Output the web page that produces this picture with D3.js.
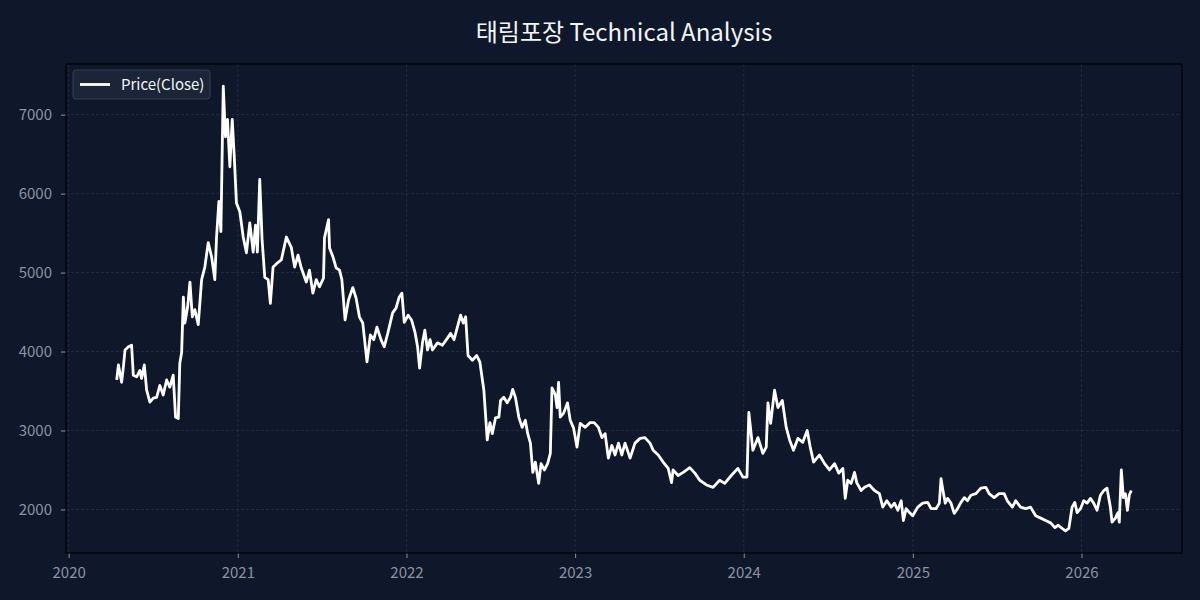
<!DOCTYPE html>
<html>
<head>
<meta charset="utf-8">
<script src="https://cdn.jsdelivr.net/npm/d3@7"></script>
<style>
  html, body { margin: 0; padding: 0; background: #0f172a; }
  svg { display: block; font-family: "Noto Sans CJK KR", "Noto Sans", sans-serif; }
</style>
</head>
<body>
<div id="chart"></div>
<script>
// dates as decimal years
var dates = [
  2020.284, 2020.294, 2020.313, 2020.323, 2020.333, 2020.353, 2020.372, 2020.382, 2020.402, 2020.421,
  2020.431, 2020.447, 2020.461, 2020.480, 2020.500, 2020.520, 2020.539, 2020.559, 2020.579, 2020.598,
  2020.618, 2020.632, 2020.648, 2020.657, 2020.668, 2020.678, 2020.687, 2020.703, 2020.717, 2020.731,
  2020.746, 2020.766, 2020.786, 2020.805, 2020.825, 2020.845, 2020.864, 2020.874, 2020.888, 2020.900,
  2020.914, 2020.927, 2020.939, 2020.953, 2020.967, 2020.979, 2020.992, 2021.012, 2021.032, 2021.051,
  2021.071, 2021.091, 2021.105, 2021.116, 2021.130, 2021.144, 2021.160, 2021.180, 2021.193, 2021.209,
  2021.239, 2021.258, 2021.288, 2021.317, 2021.337, 2021.357, 2021.376, 2021.406, 2021.425, 2021.445,
  2021.465, 2021.484, 2021.508, 2021.514, 2021.538, 2021.544, 2021.564, 2021.583, 2021.603, 2021.617,
  2021.636, 2021.656, 2021.682, 2021.701, 2021.721, 2021.741, 2021.766, 2021.786, 2021.806, 2021.825,
  2021.849, 2021.868, 2021.889, 2021.918, 2021.938, 2021.957, 2021.973, 2021.987, 2022.010, 2022.030,
  2022.050, 2022.066, 2022.078, 2022.095, 2022.109, 2022.125, 2022.140, 2022.154, 2022.184, 2022.213,
  2022.243, 2022.262, 2022.282, 2022.302, 2022.321, 2022.337, 2022.351, 2022.365, 2022.391, 2022.416,
  2022.435, 2022.459, 2022.479, 2022.495, 2022.509, 2022.528, 2022.548, 2022.558, 2022.577, 2022.597,
  2022.617, 2022.630, 2022.646, 2022.666, 2022.686, 2022.705, 2022.719, 2022.735, 2022.749, 2022.764,
  2022.784, 2022.798, 2022.818, 2022.837, 2022.853, 2022.863, 2022.883, 2022.893, 2022.902, 2022.912,
  2022.932, 2022.955, 2022.971, 2022.991, 2023.011, 2023.030, 2023.060, 2023.089, 2023.113, 2023.138,
  2023.159, 2023.178, 2023.197, 2023.218, 2023.237, 2023.257, 2023.277, 2023.296, 2023.326, 2023.355,
  2023.385, 2023.414, 2023.444, 2023.463, 2023.493, 2023.522, 2023.552, 2023.572, 2023.581, 2023.611,
  2023.641, 2023.680, 2023.710, 2023.739, 2023.779, 2023.818, 2023.857, 2023.887, 2023.926, 2023.965,
  2023.995, 2024.019, 2024.030, 2024.054, 2024.084, 2024.113, 2024.133, 2024.143, 2024.159, 2024.182,
  2024.202, 2024.228, 2024.251, 2024.271, 2024.294, 2024.320, 2024.349, 2024.375, 2024.393, 2024.413,
  2024.448, 2024.478, 2024.507, 2024.537, 2024.562, 2024.586, 2024.600, 2024.615, 2024.635, 2024.655,
  2024.668, 2024.694, 2024.714, 2024.743, 2024.773, 2024.802, 2024.822, 2024.846, 2024.872, 2024.891,
  2024.911, 2024.931, 2024.944, 2024.960, 2024.980, 2024.999, 2025.029, 2025.058, 2025.088, 2025.108,
  2025.137, 2025.157, 2025.167, 2025.176, 2025.192, 2025.206, 2025.226, 2025.245, 2025.265, 2025.285,
  2025.305, 2025.324, 2025.344, 2025.374, 2025.403, 2025.433, 2025.452, 2025.482, 2025.511, 2025.541,
  2025.560, 2025.590, 2025.610, 2025.639, 2025.669, 2025.698, 2025.728, 2025.758, 2025.787, 2025.817,
  2025.842, 2025.862, 2025.885, 2025.905, 2025.925, 2025.944, 2025.960, 2025.974, 2025.994, 2026.013,
  2026.033, 2026.053, 2026.072, 2026.092, 2026.112, 2026.132, 2026.151, 2026.171, 2026.181, 2026.201,
  2026.216, 2026.224, 2026.236, 2026.248, 2026.260, 2026.272, 2026.283, 2026.295
];

var closes = [
  3640, 3830, 3610, 3800, 4020, 4060, 4080, 3700, 3680, 3760,
  3660, 3830, 3510, 3360, 3410, 3420, 3570, 3450, 3640, 3550,
  3700, 3170, 3150, 3850, 3990, 4690, 4360, 4560, 4880, 4440,
  4530, 4340, 4910, 5070, 5380, 5200, 4910, 5440, 5900, 5520,
  7360, 6720, 6940, 6340, 6940, 6470, 5880, 5770, 5450, 5250,
  5630, 5260, 5600, 5260, 6180, 5410, 4940, 4910, 4610, 5070,
  5130, 5160, 5450, 5320, 5070, 5220, 5060, 4880, 5030, 4740,
  4910, 4820, 4930, 5440, 5670, 5310, 5200, 5060, 5030, 4910,
  4400, 4650, 4810, 4680, 4440, 4360, 3870, 4210, 4150, 4310,
  4150, 4060, 4230, 4490, 4550, 4690, 4740, 4370, 4460, 4400,
  4250, 4060, 3790, 4110, 4270, 4020, 4150, 4020, 4110, 4080,
  4170, 4230, 4150, 4310, 4460, 4360, 4440, 3950, 3890, 3950,
  3870, 3510, 2880, 3100, 2960, 3160, 3170, 3380, 3420, 3350,
  3420, 3520, 3420, 3170, 3040, 3130, 2960, 2840, 2470, 2600,
  2330, 2580, 2500, 2580, 2710, 3540, 3450, 3290, 3610, 3170,
  3220, 3350, 3130, 3030, 2790, 3090, 3040, 3100, 3100, 3040,
  2910, 2960, 2650, 2810, 2690, 2840, 2690, 2840, 2650, 2840,
  2900, 2910, 2840, 2750, 2690, 2600, 2520, 2340, 2500, 2430,
  2470, 2530, 2460, 2370, 2310, 2280, 2370, 2330, 2430, 2520,
  2410, 2410, 3230, 2750, 2910, 2710, 2790, 3350, 3090, 3510,
  3290, 3380, 3040, 2880, 2750, 2900, 2850, 3000, 2790, 2600,
  2690, 2580, 2500, 2580, 2460, 2520, 2140, 2370, 2330, 2470,
  2340, 2240, 2280, 2310, 2240, 2200, 2030, 2110, 2030, 2080,
  1990, 2110, 1860, 2010, 1960, 1920, 2030, 2080, 2090, 2010,
  2010, 2080, 2390, 2270, 2080, 2140, 2080, 1950, 2010, 2090,
  2150, 2110, 2180, 2200, 2270, 2280, 2200, 2150, 2200, 2200,
  2110, 2030, 2110, 2030, 2010, 2030, 1920, 1890, 1860, 1830,
  1770, 1800, 1760, 1730, 1760, 2030, 2090, 1960, 2010, 2110,
  2080, 2140, 2080, 1990, 2180, 2240, 2270, 2030, 1840, 1890,
  1960, 1840, 2500, 2150, 2200, 1990, 2180, 2240
];

var yTicks = [2000, 3000, 4000, 5000, 6000, 7000];
var xTickYears = [2020, 2021, 2022, 2023, 2024, 2025, 2026];
var chartTitle = "태림포장 Technical Analysis";
var seriesName = "Price(Close)";

var width = 1200, height = 600;
var margin = { top: 64, right: 18, bottom: 47, left: 66 };
var innerW = width - margin.left - margin.right;
var innerH = height - margin.top - margin.bottom;

function yearToDate(t) {
  var y = Math.floor(t);
  var a = Date.UTC(y, 0, 1), b = Date.UTC(y + 1, 0, 1);
  return new Date(a + (t - y) * (b - a));
}

var data = dates.map(function (t, i) { return { date: yearToDate(t), close: closes[i] }; });

// matplotlib-like 5% padding
var tExt = d3.extent(data, function (d) { return +d.date; });
var tPad = (tExt[1] - tExt[0]) * 0.05;
var vExt = d3.extent(closes);
var vPad = (vExt[1] - vExt[0]) * 0.05;

var x = d3.scaleUtc()
  .domain([new Date(tExt[0] - tPad), new Date(tExt[1] + tPad)])
  .range([0, innerW]);
var y = d3.scaleLinear()
  .domain([vExt[0] - vPad, vExt[1] + vPad])
  .range([innerH, 0]);

var svg = d3.select("#chart").append("svg")
  .attr("width", width)
  .attr("height", height);

svg.append("rect")
  .attr("width", width)
  .attr("height", height)
  .attr("fill", "#0f172a");

svg.append("text")
  .attr("x", margin.left + innerW / 2)
  .attr("y", 41)
  .attr("text-anchor", "middle")
  .attr("fill", "#f1f5f9")
  .attr("font-size", 24)
  .text(chartTitle);

var g = svg.append("g")
  .attr("transform", "translate(" + margin.left + "," + margin.top + ")");

var xTickDates = xTickYears.map(function (yr) { return new Date(Date.UTC(yr, 0, 1)); });

// grid
g.append("g")
  .selectAll("line.vx")
  .data(xTickDates)
  .join("line")
  .attr("x1", function (d) { return x(d); })
  .attr("x2", function (d) { return x(d); })
  .attr("y1", 0)
  .attr("y2", innerH)
  .attr("stroke", "#94a3b8")
  .attr("stroke-opacity", 0.18)
  .attr("stroke-width", 0.8)
  .attr("stroke-dasharray", "3,2");

g.append("g")
  .selectAll("line.hy")
  .data(yTicks)
  .join("line")
  .attr("x1", 0)
  .attr("x2", innerW)
  .attr("y1", function (d) { return y(d); })
  .attr("y2", function (d) { return y(d); })
  .attr("stroke", "#94a3b8")
  .attr("stroke-opacity", 0.18)
  .attr("stroke-width", 0.8)
  .attr("stroke-dasharray", "3,2");

// axes
var xAxis = g.append("g")
  .attr("transform", "translate(0," + innerH + ")")
  .call(d3.axisBottom(x).tickValues(xTickDates).tickFormat(d3.utcFormat("%Y")).tickSize(5).tickPadding(9));
var yAxis = g.append("g")
  .call(d3.axisLeft(y).tickValues(yTicks).tickFormat(d3.format("d")).tickSize(5).tickPadding(9));

[xAxis, yAxis].forEach(function (ax) {
  ax.select(".domain").remove();
  ax.selectAll(".tick line").attr("stroke", "#8b93a1");
  ax.selectAll(".tick text")
    .attr("fill", "#8b93a1")
    .attr("font-size", 15)
    .attr("font-family", "'Noto Sans CJK KR', 'Noto Sans', sans-serif");
});

// frame
g.append("rect")
  .attr("width", innerW)
  .attr("height", innerH)
  .attr("fill", "none")
  .attr("stroke", "#000000")
  .attr("stroke-width", 1.2);

// price line
var line = d3.line()
  .x(function (d) { return x(d.date); })
  .y(function (d) { return y(d.close); });

g.append("path")
  .datum(data)
  .attr("fill", "none")
  .attr("stroke", "#ffffff")
  .attr("stroke-width", 2.8)
  .attr("stroke-linejoin", "round")
  .attr("d", line);

// legend
var legend = g.append("g").attr("transform", "translate(7,6)");
legend.append("rect")
  .attr("width", 137)
  .attr("height", 29)
  .attr("rx", 3)
  .attr("fill", "#1e293b")
  .attr("fill-opacity", 0.8)
  .attr("stroke", "#334155")
  .attr("stroke-width", 1);
legend.append("line")
  .attr("x1", 7)
  .attr("x2", 37)
  .attr("y1", 14.5)
  .attr("y2", 14.5)
  .attr("stroke", "#ffffff")
  .attr("stroke-width", 2.8);
legend.append("text")
  .attr("x", 48)
  .attr("y", 20)
  .attr("fill", "#f1f5f9")
  .attr("font-size", 15)
  .text(seriesName);
</script>
</body>
</html>
